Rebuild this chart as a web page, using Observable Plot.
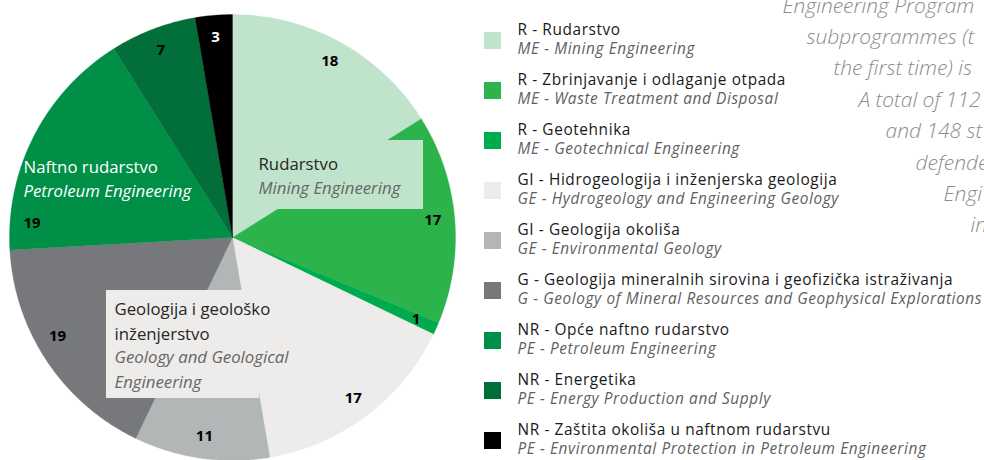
<!DOCTYPE html>
<html>
<head>
<meta charset="utf-8">
<script src="https://cdn.jsdelivr.net/npm/d3@7"></script>
<script src="https://cdn.jsdelivr.net/npm/@observablehq/plot@0.6"></script>
<style>
  html, body { margin: 0; padding: 0; background: #fff; overflow: hidden; }
</style>
</head>
<body>
<div id="chart"></div>
<script>
// ---- data ----
const namesHr = [
  "R - Rudarstvo",
  "R - Zbrinjavanje i odlaganje otpada",
  "R - Geotehnika",
  "GI - Hidrogeologija i inženjerska geologija",
  "GI - Geologija okoliša",
  "G - Geologija mineralnih sirovina i geofizička istraživanja",
  "NR - Opće naftno rudarstvo",
  "NR - Energetika",
  "NR - Zaštita okoliša u naftnom rudarstvu"
];
const namesEn = [
  "ME - Mining Engineering",
  "ME - Waste Treatment and Disposal",
  "ME - Geotechnical Engineering",
  "GE - Hydrogeology and Engineering Geology",
  "GE - Environmental Geology",
  "G - Geology of Mineral Resources and Geophysical Explorations",
  "PE - Petroleum Engineering",
  "PE - Energy Production and Supply",
  "PE - Environmental Protection in Petroleum Engineering"
];
const counts = [18, 17, 1, 17, 11, 19, 19, 7, 3];
const colors = ["#c0e3cb", "#2db34b", "#00ab4e", "#edecea", "#b3b6b7", "#76787b", "#008f47", "#026e3a", "#000000"];

const groupLabelsHr = ["Rudarstvo", "Geologija i geološko\ninženjerstvo", "Naftno rudarstvo"];
const groupLabelsEn = ["Mining Engineering", "Geology and Geological\nEngineering", "Petroleum Engineering"];

// visible part of the side paragraph (cut by the picture's right edge)
const sideText = [
  "Engineering Program",
  "subprogrammes (t",
  "the first time) is",
  "A total of 112",
  "and 148 st",
  "defende",
  "Engi",
  "in"
];

// ---- layout (not data) ----
const W = 984, H = 460;
const cx = 232, cy = 237, R = 223;
const labelR = 201;
const labelFrac = [.5, .5, .5, .5, .5, .57, .12, .5, .5];

const arcs = d3.pie().sort(null).value(d => d)(counts);
const pt = (a, r) => ({x: cx + r * Math.sin(a), y: cy - r * Math.cos(a)});

const slicePts = [];
arcs.forEach((a, i) => {
  const n = Math.max(2, Math.ceil((a.endAngle - a.startAngle) / (Math.PI / 360)));
  slicePts.push({i, ...pt(0, 0), color: colors[i]});
  for (let k = 0; k <= n; k++) {
    const t = a.startAngle + (a.endAngle - a.startAngle) * k / n;
    slicePts.push({i, ...pt(t, R), color: colors[i]});
  }
  slicePts.push({i, ...pt(0, 0), color: colors[i]});
});

const valueLabels = arcs.map((a, i) => {
  const t = a.startAngle + (a.endAngle - a.startAngle) * labelFrac[i];
  return {...pt(t, labelR), text: String(counts[i]), fill: colors[i] === "#000000" ? "#ffffff" : "#000000"};
});

const boxes = [
  {x1: 250, x2: 423, y1: 140, y2: 209, fill: colors[0]},
  {x1: 106, x2: 259, y1: 290, y2: 398, fill: colors[3]}
];
// y = baseline of the last line of each block
const groupText = [
  {x: 258, yHr: 169, yEn: 193, hr: groupLabelsHr[0], en: groupLabelsEn[0], c1: "#262626", c2: "#666666"},
  {x: 114, yHr: 339, yEn: 387, hr: groupLabelsHr[1], en: groupLabelsEn[1], c1: "#262626", c2: "#666666"},
  {x: 23, yHr: 172, yEn: 196, hr: groupLabelsHr[2], en: groupLabelsEn[2], c1: "#ffffff", c2: "#ffffff"}
];

const legend = counts.map((c, i) => ({i, hr: namesHr[i], en: namesEn[i], color: colors[i]}));
const sideRows = sideText.map((t, i) => ({t, x: [782, 806, 833, 858, 885, 915, 943, 970][i], y: 12 + i * 31.4}));

const chart = Plot.plot({
  width: W, height: H, margin: 0,
  x: {domain: [0, W], range: [0, W], axis: null},
  y: {domain: [0, H], range: [0, H], axis: null},
  style: {background: "#ffffff", overflow: "hidden"},
  marks: [
    Plot.line(slicePts, {x: "x", y: "y", z: "i", fill: "color", stroke: "color", strokeWidth: 0.3, curve: "linear"}),
    Plot.text(valueLabels, {x: "x", y: "y", text: "text", fill: "fill", fontWeight: "bold", fontSize: 15, fontFamily: "Open Sans"}),
    Plot.rect(boxes, {x1: "x1", x2: "x2", y1: "y1", y2: "y2", fill: "fill"}),
    Plot.text(groupText, {x: "x", y: "yHr", text: "hr", fill: "c1", textAnchor: "start", lineAnchor: "bottom", fontSize: 16.8, lineHeight: 1.45, fontFamily: "Open Sans"}),
    Plot.text(groupText, {x: "x", y: "yEn", text: "en", fill: "c2", textAnchor: "start", lineAnchor: "bottom", fontSize: 16.8, lineHeight: 1.45, fontStyle: "italic", fontFamily: "Open Sans"}),
    Plot.rect(legend, {x1: 484, x2: 501, y1: d => 32 + 50 * d.i, y2: d => 49 + 50 * d.i, fill: "color"}),
    Plot.text(legend, {x: 517, y: d => 34 + 50 * d.i, text: "hr", fill: "#1a1a1a", textAnchor: "start", lineAnchor: "bottom", fontSize: 15.4, fontFamily: "Open Sans"}),
    Plot.text(legend, {x: 517, y: d => 53.5 + 50 * d.i, text: "en", fill: "#5f5f5f", textAnchor: "start", lineAnchor: "bottom", fontSize: 15.4, fontStyle: "italic", fontFamily: "Open Sans"}),
    Plot.text(sideRows, {x: "x", y: "y", text: "t", fill: "#8c8c8c", textAnchor: "start", lineAnchor: "bottom", fontSize: 21, fontStyle: "italic", fontWeight: 300, fontFamily: "Open Sans"})
  ]
});
// widen the legend lettering (marks 3 and 4 among the text groups)
const textGroups = chart.querySelectorAll('g[aria-label="text"]');
[3, 4].forEach(k => { if (textGroups[k]) textGroups[k].style.letterSpacing = "0.6px"; });
document.getElementById("chart").append(chart);
</script>
</body>
</html>
